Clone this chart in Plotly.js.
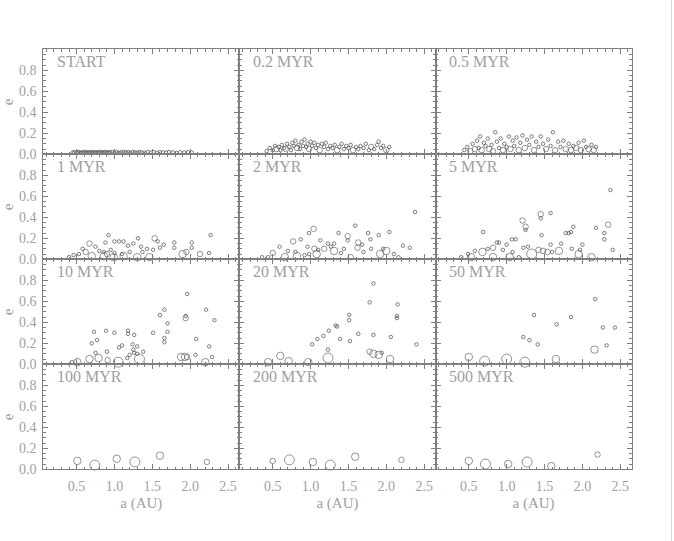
<!DOCTYPE html>
<html><head><meta charset="utf-8">
<script src="https://cdn.plot.ly/plotly-3.0.1.min.js"></script>
<style>html,body{margin:0;padding:0;background:#fff}</style>
</head><body><div id="chart" style="width:674px;height:541px"></div>
<script>
const panelLabels = ["START","0.2 MYR","0.5 MYR","1 MYR","2 MYR","5 MYR","10 MYR","20 MYR","50 MYR","100 MYR","200 MYR","500 MYR"];
const xTickVals = [0.5,1.0,1.5,2.0,2.5];
const xTickText = ["0.5","1.0","1.5","2.0","2.5"];
const yTickVals = [0,0.2,0.4,0.6,0.8];
const yTickText = ["0.0","0.2","0.4","0.6","0.8"];

const a_start = [0.45,0.47,0.50,0.52,0.54,0.56,0.58,0.60,0.62,0.64,
0.66,0.68,0.70,0.72,0.74,0.76,0.78,0.80,0.82,0.84,
0.86,0.88,0.90,0.92,0.94,0.97,1.00,1.03,1.06,1.09,
1.12,1.15,1.18,1.21,1.24,1.27,1.30,1.33,1.36,1.40,
1.44,1.48,1.52,1.56,1.60,1.64,1.68,1.72,1.77,1.82,
1.87,1.92,1.97,2.02];
const e_start = [0.016,0.020,0.015,0.022,0.018,0.014,0.021,0.017,0.023,0.016,
0.019,0.015,0.022,0.018,0.020,0.014,0.021,0.017,0.023,0.016,
0.019,0.022,0.015,0.020,0.018,0.023,0.016,0.021,0.014,0.019,
0.022,0.017,0.020,0.015,0.023,0.018,0.016,0.021,0.019,0.014,
0.022,0.017,0.020,0.015,0.021,0.018,0.016,0.022,0.019,0.014,
0.020,0.017,0.021,0.016];

const a_02 = [0.42,0.46,0.50,0.53,0.55,0.58,0.60,0.62,0.65,0.67,
0.69,0.72,0.74,0.76,0.78,0.80,0.82,0.84,0.86,0.88,
0.90,0.92,0.94,0.96,0.98,1.00,1.02,1.05,1.07,1.10,
1.12,1.15,1.18,1.20,1.23,1.26,1.29,1.32,1.35,1.38,
1.41,1.44,1.47,1.50,1.53,1.56,1.60,1.63,1.66,1.70,
1.73,1.77,1.80,1.84,1.88,1.90,1.93,1.96,2.00,2.04];
const e_02 = [0.03,0.06,0.04,0.08,0.05,0.07,0.04,0.09,0.06,0.05,
0.10,0.07,0.04,0.11,0.08,0.13,0.06,0.09,0.05,0.12,
0.08,0.14,0.07,0.10,0.05,0.12,0.08,0.11,0.06,0.09,
0.04,0.10,0.07,0.11,0.05,0.08,0.06,0.09,0.04,0.07,
0.10,0.05,0.08,0.06,0.09,0.04,0.07,0.05,0.08,0.06,
0.10,0.04,0.07,0.05,0.09,0.12,0.06,0.08,0.04,0.07];
const m_02 = [1,1,1,1,2,1,1,1,1,2,
1,1,1,1,1,1,2,1,1,1,
1,1,1,1,2,1,1,1,1,1,
2,1,1,1,1,1,1,1,2,1,
1,1,1,1,1,2,1,1,1,1,
1,1,2,1,1,1,1,1,2,1];

const a_05 = [0.44,0.48,0.52,0.55,0.58,0.61,0.63,0.65,0.67,0.70,
0.72,0.75,0.77,0.80,0.82,0.85,0.87,0.90,0.92,0.95,
0.97,1.00,1.03,1.05,1.08,1.10,1.13,1.16,1.18,1.21,
1.24,1.27,1.30,1.33,1.36,1.39,1.42,1.45,1.48,1.52,
1.55,1.58,1.61,1.64,1.68,1.71,1.75,1.78,1.82,1.85,
1.88,1.92,1.95,1.98,2.02,2.05,2.08,2.12,2.15,2.18];
const e_05 = [0.04,0.07,0.03,0.10,0.05,0.13,0.06,0.17,0.04,0.11,
0.08,0.15,0.05,0.09,0.03,0.21,0.12,0.06,0.15,0.04,
0.10,0.07,0.17,0.05,0.13,0.08,0.16,0.04,0.11,0.18,
0.06,0.14,0.09,0.17,0.04,0.12,0.07,0.17,0.10,0.05,
0.14,0.08,0.21,0.04,0.12,0.07,0.13,0.05,0.10,0.04,
0.08,0.06,0.11,0.04,0.13,0.07,0.05,0.09,0.04,0.07];
const m_05 = [1,1,2,1,2,1,1,1,2,1,
1,1,2,1,2,1,1,1,1,2,
1,1,1,2,1,1,1,2,1,1,
2,1,1,1,2,1,1,1,1,2,
1,1,1,2,1,1,1,2,1,2,
1,2,1,2,1,1,2,1,2,1];

const a_1 = [0.92,0.67,0.88,1.00,1.06,1.12,1.31,1.53,1.57,1.79,
2.02,2.27,2.02,1.79,1.43,1.51,1.60,0.80,0.86,0.95,
0.62,0.53,1.00,1.10,1.20,1.37,0.70,0.86,0.99,1.12,
1.30,1.46,1.90,2.13,0.46,2.25,0.75,1.18,1.65,1.35,
0.58,1.25,1.95,0.40,0.90];
const e_1 = [0.23,0.15,0.16,0.17,0.17,0.17,0.20,0.20,0.17,0.16,
0.16,0.23,0.11,0.11,0.10,0.09,0.11,0.08,0.07,0.09,
0.07,0.05,0.06,0.05,0.07,0.07,0.03,0.03,0.02,0.03,
0.02,0.02,0.05,0.05,0.04,0.06,0.12,0.13,0.14,0.12,
0.10,0.15,0.07,0.02,0.05];
const m_1 = [1,2,1,1,1,1,1,2,1,1,
1,1,1,1,1,1,1,1,1,1,
2,1,1,1,1,1,3,3,3,3,
3,3,3,2,1,1,1,1,1,1,
1,1,2,1,2];

const a_2 = [2.38,1.04,1.59,0.98,0.87,0.77,1.37,1.49,1.49,1.76,
1.90,2.04,1.63,1.68,1.79,2.22,2.31,1.13,1.23,1.31,
0.96,1.05,1.10,1.18,1.27,0.59,0.70,0.80,0.50,0.44,
0.66,0.82,1.08,1.31,1.53,1.92,2.00,2.16,1.44,1.62,
1.80,1.96,0.92,0.98,1.40,1.70,2.10,0.36];
const e_2 = [0.45,0.29,0.32,0.25,0.19,0.17,0.25,0.22,0.18,0.25,
0.23,0.26,0.16,0.14,0.19,0.13,0.11,0.18,0.15,0.15,
0.12,0.10,0.09,0.10,0.12,0.12,0.08,0.07,0.06,0.02,
0.02,0.03,0.05,0.08,0.02,0.05,0.08,0.02,0.10,0.11,
0.10,0.10,0.04,0.05,0.06,0.07,0.05,0.02];
const m_2 = [1,2,1,1,1,2,1,2,1,1,
1,1,2,1,1,1,1,1,1,1,
1,2,1,2,1,1,1,1,2,1,
3,3,3,3,2,3,3,1,1,2,
1,1,1,1,1,1,1,1];

const a_5 = [2.37,1.21,1.45,1.45,1.58,1.25,1.25,2.34,2.18,1.88,
1.78,1.82,1.85,2.29,2.29,1.46,0.69,2.40,0.87,0.90,
1.07,1.12,1.58,1.72,2.00,1.86,1.97,1.22,1.28,0.82,
0.95,0.58,0.49,1.08,1.42,1.48,1.54,1.60,0.53,0.68,
0.82,1.04,1.33,1.69,1.95,2.12,1.16,0.40,0.75,1.00];
const e_5 = [0.66,0.37,0.43,0.39,0.44,0.31,0.28,0.33,0.30,0.31,
0.25,0.25,0.26,0.25,0.19,0.23,0.26,0.09,0.16,0.16,
0.19,0.19,0.14,0.15,0.14,0.10,0.09,0.11,0.12,0.11,
0.09,0.08,0.05,0.07,0.09,0.08,0.07,0.07,0.02,0.07,
0.02,0.02,0.05,0.08,0.05,0.02,0.02,0.02,0.10,0.14];
const m_5 = [1,2,2,1,1,2,1,2,1,1,
1,1,1,1,1,1,1,1,1,1,
1,1,1,1,1,1,1,1,1,2,
1,1,1,1,2,2,2,1,3,3,
3,3,4,3,3,3,1,1,1,1];

const a_10 = [1.96,1.66,1.60,2.21,1.94,1.94,2.32,1.70,1.51,1.70,
1.66,1.66,0.73,0.89,1.00,1.18,1.18,1.26,2.08,0.70,
0.77,1.06,1.10,1.24,1.30,1.25,2.25,0.90,0.75,1.20,
1.26,1.30,1.38,2.07,2.29,1.17,0.51,0.67,0.79,0.91,
1.05,1.33,1.88,1.93,1.96,2.20,0.44];
const e_10 = [0.67,0.52,0.47,0.52,0.46,0.44,0.42,0.39,0.30,0.31,
0.25,0.21,0.31,0.32,0.30,0.32,0.29,0.28,0.24,0.20,
0.23,0.16,0.18,0.19,0.17,0.14,0.17,0.12,0.11,0.09,
0.11,0.10,0.12,0.09,0.07,0.06,0.02,0.05,0.06,0.04,
0.02,0.05,0.07,0.07,0.07,0.02,0.02];
const m_10 = [1,1,1,1,1,2,1,1,1,1,
1,1,1,1,1,1,1,1,1,1,
1,1,1,1,1,1,1,1,1,1,
1,1,1,1,1,1,3,3,3,2,
4,4,3,3,2,3,1];

const a_20 = [1.83,1.78,2.15,1.51,1.51,2.14,2.14,1.33,1.35,1.24,
1.17,1.09,1.63,1.83,2.06,1.39,1.52,1.02,2.40,1.23,
1.78,1.83,1.90,1.94,0.44,0.60,0.71,0.97,1.23,2.05,
0.35];
const e_20 = [0.77,0.59,0.57,0.47,0.42,0.46,0.44,0.37,0.36,0.32,
0.27,0.24,0.29,0.28,0.26,0.24,0.22,0.19,0.19,0.14,
0.12,0.10,0.09,0.11,0.02,0.08,0.03,0.02,0.06,0.05,
0.00];
const m_20 = [1,1,1,1,1,1,1,1,1,1,
1,1,1,1,1,1,1,1,1,1,
2,3,3,1,3,3,3,3,4,3,
0];

const a_50 = [2.17,1.36,1.85,1.66,2.27,2.43,1.22,1.30,1.41,2.32,
2.16,0.50,0.71,1.00,1.24,1.65,0.40];
const e_50 = [0.62,0.47,0.45,0.38,0.35,0.35,0.26,0.23,0.19,0.18,
0.14,0.07,0.03,0.05,0.02,0.05,0.00];
const m_50 = [1,1,1,1,1,1,1,1,1,1,
3,3,4,4,4,3,0];

const a_100 = [0.51,0.74,1.03,1.27,1.60,2.22,0.40];
const e_100 = [0.08,0.04,0.10,0.07,0.13,0.07,0.00];
const m_100 = [3,4,3,4,3,2,0];

const a_200 = [0.50,0.72,1.03,1.26,1.59,2.20,0.41];
const e_200 = [0.08,0.09,0.07,0.04,0.12,0.09,0.00];
const m_200 = [2,4,3,4,3,2,0];

const a_500 = [0.50,0.72,1.02,1.27,1.59,2.20,0.40];
const e_500 = [0.08,0.05,0.05,0.07,0.03,0.14,0.00];
const m_500 = [3,4,3,4,3,2,0];

const panels = [
  [a_start, e_start, null], [a_02, e_02, m_02], [a_05, e_05, m_05],
  [a_1, e_1, m_1], [a_2, e_2, m_2], [a_5, e_5, m_5],
  [a_10, e_10, m_10], [a_20, e_20, m_20], [a_50, e_50, m_50],
  [a_100, e_100, m_100], [a_200, e_200, m_200], [a_500, e_500, m_500]
];

const W = 674, H = 541;
const colLeft = 43.3, colW = 196.1, rowTop = 49.3, rowH = 105;
const sizeFor = m => [2.5, 3.5, 5.5, 7.5, 10][m];
const axisCol = '#7f7f7f';
const textCol = '#a0a0a0';
const fontFam = '"Liberation Serif", "DejaVu Serif", serif';

const data = [];
const layout = {
  width: W, height: H,
  margin: {l: 0, r: 0, t: 0, b: 0},
  paper_bgcolor: '#ffffff', plot_bgcolor: '#ffffff',
  showlegend: false,
  annotations: [],
  shapes: [{type: 'line', xref: 'paper', yref: 'paper', x0: 671.5 / W, x1: 671.5 / W, y0: 0, y1: 1,
            line: {color: '#d9d9d9', width: 1}}]
};

panels.forEach((p, i) => {
  const r = Math.floor(i / 3), c = i % 3;
  const xa = i === 0 ? 'x' : 'x' + (i + 1);
  const ya = i === 0 ? 'y' : 'y' + (i + 1);
  const [a, e, m] = p;
  const ms = a.map((_, k) => m ? m[k] : 1);
  data.push({
    type: 'scatter', mode: 'markers', x: a, y: e, xaxis: xa, yaxis: ya,
    cliponaxis: false,
    marker: {
      symbol: ms.map(v => v === 0 ? 'circle' : 'circle-open'),
      size: ms.map(sizeFor),
      color: ms.map(v => v === 0 ? '#333333' : (v === 1 ? '#4a4a4a' : '#666666')),
      line: {width: 1}
    },
    hoverinfo: 'x+y'
  });
  const x0 = colLeft + colW * c, x1 = x0 + colW;
  const y0 = rowTop + rowH * r, y1 = y0 + rowH;
  const common = {
    showline: true, linecolor: axisCol, linewidth: 1, mirror: 'allticks',
    ticks: 'inside', ticklen: 5, tickcolor: axisCol, tickwidth: 1,
    showgrid: false, zeroline: false, fixedrange: true,
    tickfont: {family: fontFam, size: 14, color: textCol}
  };
  layout['xaxis' + (i === 0 ? '' : i + 1)] = Object.assign({}, common, {
    anchor: ya, domain: [x0 / W, x1 / W], range: [0.06, 2.65],
    tickmode: 'array', tickvals: xTickVals, ticktext: xTickText,
    showticklabels: r === 3, ticklabelstandoff: 4,
    minor: {tickmode: 'linear', tick0: 0, dtick: 0.1, ticks: 'inside', ticklen: 2.5, tickcolor: axisCol, showgrid: false},
    title: r === 3 ? {text: 'a (AU)', font: {family: fontFam, size: 15, color: textCol}, standoff: 4} : {text: ''}
  });
  layout['yaxis' + (i === 0 ? '' : i + 1)] = Object.assign({}, common, {
    anchor: xa, domain: [1 - y1 / H, 1 - y0 / H], range: [0, 1.0],
    tickmode: 'array', tickvals: yTickVals, ticktext: yTickText,
    showticklabels: c === 0, ticklabelstandoff: 3,
    minor: {tickmode: 'linear', tick0: 0, dtick: 0.05, ticks: 'inside', ticklen: 2.5, tickcolor: axisCol, showgrid: false},
    title: c === 0 ? {text: 'e', font: {family: fontFam, size: 15, color: textCol}, standoff: 6} : {text: ''}
  });
  layout.annotations.push({
    xref: xa + ' domain', yref: ya + ' domain', x: 0.06, y: 0.985,
    xanchor: 'left', yanchor: 'top', showarrow: false,
    text: panelLabels[i], font: {family: fontFam, size: 16, color: textCol}
  });
});

Plotly.newPlot('chart', data, layout, {displayModeBar: false, staticPlot: true});
</script>
</body></html>
